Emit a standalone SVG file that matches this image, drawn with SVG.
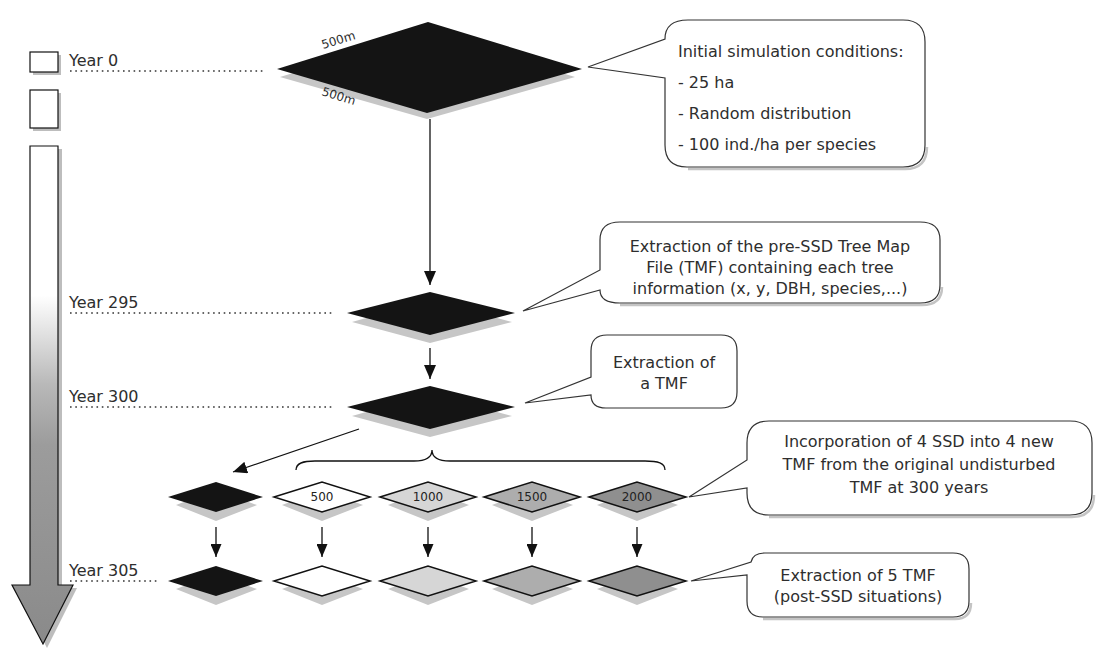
<svg xmlns="http://www.w3.org/2000/svg" width="1097" height="649" viewBox="0 0 1097 649">
<defs>
<linearGradient id="tl" x1="0" y1="0" x2="0" y2="1">
<stop offset="0" stop-color="#ffffff"/>
<stop offset="0.3" stop-color="#ffffff"/>
<stop offset="0.48" stop-color="#b8b8b8"/>
<stop offset="0.6" stop-color="#9c9c9c"/>
<stop offset="1" stop-color="#8a8a8a"/>
</linearGradient>
<marker id="ah" viewBox="0 0 14 12" refX="14" refY="6" markerWidth="14" markerHeight="12" markerUnits="userSpaceOnUse" orient="auto">
<path d="M0,0 L14,6 L0,12 Z" fill="#111"/>
</marker>
<marker id="ahs" viewBox="0 0 13 11" refX="13" refY="5.5" markerWidth="13" markerHeight="11" markerUnits="userSpaceOnUse" orient="auto">
<path d="M0,0 L13,5.5 L0,11 Z" fill="#111"/>
</marker>
</defs>
<style>
text{font-family:"DejaVu Sans","Liberation Sans",sans-serif;fill:#2e2e2e;}
.lbl{font-size:16px;}
.num{font-size:12px;text-anchor:middle;fill:#222;}
.dim{font-size:12px;}
.dot{stroke:#333;stroke-width:1.6;stroke-dasharray:1.6 3.7;fill:none;}
.call{fill:#fff;stroke:#333;stroke-width:1.2;}
.callsh{fill:none;stroke:#c4c4c4;stroke-width:2.5;}
.shad{fill:#c6c6c6;}
.dk{fill:#141414;}
.sd{stroke:#111;stroke-width:1.5;}
.line{stroke:#111;stroke-width:1.3;fill:none;}
.c{text-anchor:middle;}
.tbox{fill:#fff;stroke:#111;stroke-width:1.2;}
.tsh{fill:#bdbdbd;}
</style>

<g id="timeline">
<rect class="tsh" x="33" y="55" width="28" height="20"/>
<rect class="tbox" x="30" y="52" width="28" height="20"/>
<rect class="tsh" x="33" y="93" width="28" height="38"/>
<rect class="tbox" x="30" y="90" width="28" height="38"/>
<path d="M34,149 L62,149 L62,588 L77,588 L47,648 L16,588 L34,588 Z" fill="#bdbdbd"/>
<path d="M30,146 L58,146 L58,585 L73,585 L43,644 L12,585 L30,585 Z" fill="url(#tl)" stroke="#111" stroke-width="1.2"/>
</g>

<g id="year-labels">
<text class="lbl" x="69" y="66">Year 0</text>
<line class="dot" x1="70" y1="71" x2="265" y2="71"/>
<text class="lbl" x="69" y="308">Year 295</text>
<line class="dot" x1="70" y1="313" x2="334" y2="313"/>
<text class="lbl" x="69" y="402">Year 300</text>
<line class="dot" x1="70" y1="407" x2="334" y2="407"/>
<text class="lbl" x="69" y="576">Year 305</text>
<line class="dot" x1="70" y1="581" x2="157" y2="581"/>
</g>

<g id="plot-year0">
<path class="shad" d="M280,77 L427,32 L575,77 L427,119 Z"/>
<path class="dk" d="M277,69 L428,22 L582,69 L427,113 Z"/>
<text class="dim" transform="translate(323,49) rotate(-17)">500m</text>
<text class="dim" transform="translate(321,95) rotate(17)">500m</text>
</g>

<g id="plot-year295">
<path class="shad" d="M352,322 L430,300 L512,322 L430,343 Z"/>
<path class="dk" d="M347,313 L430,292 L515,313 L430,335 Z"/>
</g>

<g id="plot-year300">
<path class="shad" d="M352,416 L430,394 L512,416 L430,437 Z"/>
<path class="dk" d="M347,407 L430,386 L515,407 L430,429 Z"/>
</g>

<g id="row-ssd">
<g id="ssd-0">
<path class="shad" d="M176,505 L216,490 L257,505 L216,521 Z"/>
<path class="dk" d="M168,497 L216,482 L263,497 L216,512 Z"/>
</g>
<g id="ssd-500">
<path class="shad" d="M282,505 L322,490 L363,505 L322,521 Z"/>
<path class="sd" fill="#fff" d="M274,497 L322,482 L370,497 L322,512 Z"/>
<text class="num" x="322" y="501">500</text>
</g>
<g id="ssd-1000">
<path class="shad" d="M388,505 L428,490 L469,505 L428,521 Z"/>
<path class="sd" fill="#d6d6d6" d="M380,497 L428,482 L476,497 L428,512 Z"/>
<text class="num" x="428" y="501">1000</text>
</g>
<g id="ssd-1500">
<path class="shad" d="M492,505 L532,490 L573,505 L532,521 Z"/>
<path class="sd" fill="#adadad" d="M484,497 L532,482 L580,497 L532,512 Z"/>
<text class="num" x="532" y="501">1500</text>
</g>
<g id="ssd-2000">
<path class="shad" d="M597,505 L637,490 L678,505 L637,521 Z"/>
<path class="sd" fill="#8f8f8f" d="M589,497 L637,482 L686,497 L637,512 Z"/>
<text class="num" x="637" y="501">2000</text>
</g>
</g>

<g id="row-year305">
<g id="p305-0">
<path class="shad" d="M176,589 L216,574 L257,589 L216,605 Z"/>
<path class="dk" d="M168,581 L216,566 L263,581 L216,596 Z"/>
</g>
<g id="p305-500">
<path class="shad" d="M282,589 L322,574 L363,589 L322,605 Z"/>
<path class="sd" fill="#fff" d="M274,581 L322,566 L370,581 L322,596 Z"/>
</g>
<g id="p305-1000">
<path class="shad" d="M388,589 L428,574 L469,589 L428,605 Z"/>
<path class="sd" fill="#d6d6d6" d="M380,581 L428,566 L476,581 L428,596 Z"/>
</g>
<g id="p305-1500">
<path class="shad" d="M492,589 L532,574 L573,589 L532,605 Z"/>
<path class="sd" fill="#adadad" d="M484,581 L532,566 L580,581 L532,596 Z"/>
</g>
<g id="p305-2000">
<path class="shad" d="M597,589 L637,574 L678,589 L637,605 Z"/>
<path class="sd" fill="#8f8f8f" d="M589,581 L637,566 L686,581 L637,596 Z"/>
</g>
</g>

<g id="connectors">
<line class="line" x1="430" y1="119" x2="430" y2="285" marker-end="url(#ah)"/>
<line class="line" x1="430" y1="348" x2="430" y2="379" marker-end="url(#ah)"/>
<line class="line" x1="359" y1="429" x2="233" y2="472" marker-end="url(#ah)"/>
<line class="line" x1="216" y1="527" x2="216" y2="557" marker-end="url(#ahs)"/>
<line class="line" x1="322" y1="527" x2="322" y2="557" marker-end="url(#ahs)"/>
<line class="line" x1="428" y1="527" x2="428" y2="557" marker-end="url(#ahs)"/>
<line class="line" x1="532" y1="527" x2="532" y2="557" marker-end="url(#ahs)"/>
<line class="line" x1="637" y1="527" x2="637" y2="557" marker-end="url(#ahs)"/>
<path id="brace" class="line" d="M296,470 C296,463 303,461 315,461 L414,461 C427,461 432,457 432,450 C432,457 437,461 450,461 L645,461 C658,461 665,463 665,470"/>
</g>

<g id="callout-initial">
<path class="callsh" d="M688,169 L905,169 Q927,169 927,147"/>
<path class="call" d="M588,67 L665,39 C665,27 672,20 688,20 L903,20 Q925,20 925,42 L925,145 Q925,167 903,167 L687,167 Q665,167 665,145 L665,78 Z"/>
<text class="lbl" x="678" y="57">Initial simulation conditions:</text>
<text class="lbl" x="678" y="88">- 25 ha</text>
<text class="lbl" x="678" y="119">- Random distribution</text>
<text class="lbl" x="678" y="150">- 100 ind./ha per species</text>
</g>

<g id="callout-presd">
<path class="callsh" d="M620,305 L922,305 Q942,305 942,287"/>
<path class="call" d="M523,311 L600,270 L600,240 Q600,222 620,222 L920,222 Q940,222 940,240 L940,285 Q940,303 920,303 L620,303 Q600,303 600,290 Z"/>
<text class="lbl c" x="770" y="252">Extraction of the pre-SSD Tree Map</text>
<text class="lbl c" x="770" y="273">File (TMF) containing each tree</text>
<text class="lbl c" x="770" y="294">information (x, y, DBH, species,...)</text>
</g>

<g id="callout-tmf">
<path class="call" d="M525,403 L591,377 L591,351 Q591,335 607,335 L721,335 Q737,335 737,351 L737,392 Q737,408 721,408 L606,408 Q591,408 591,395 Z"/>
<text class="lbl c" x="664" y="368">Extraction of</text>
<text class="lbl c" x="664" y="389">a TMF</text>
</g>

<g id="callout-incorp">
<path class="callsh" d="M769,517 L1072,517 Q1094,517 1094,495"/>
<path class="call" d="M689,497 L747,460 L747,443 Q747,421 769,421 L1070,421 Q1092,421 1092,443 L1092,493 Q1092,515 1070,515 L769,515 Q747,515 747,493 L747,488 Z"/>
<text class="lbl c" x="919" y="447">Incorporation of 4 SSD into 4 new</text>
<text class="lbl c" x="919" y="470">TMF from the original undisturbed</text>
<text class="lbl c" x="919" y="493">TMF at 300 years</text>
</g>

<g id="callout-five">
<path class="callsh" d="M763,619 L955,619 Q971,619 971,603"/>
<path class="call" d="M691,581 L751,562 Q753,553 765,553 L953,553 Q969,553 969,569 L969,601 Q969,617 953,617 L763,617 Q747,617 747,601 L747,575 Z"/>
<text class="lbl c" x="858" y="581">Extraction of 5 TMF</text>
<text class="lbl c" x="858" y="602">(post-SSD situations)</text>
</g>
</svg>
